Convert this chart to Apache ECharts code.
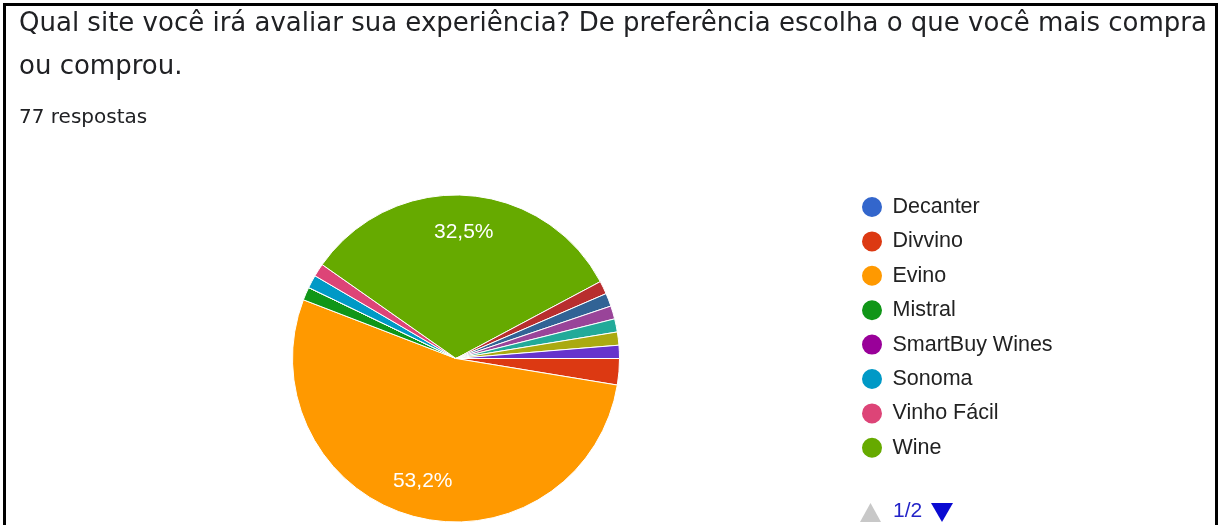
<!DOCTYPE html>
<html>
<head>
<meta charset="utf-8">
<script src="https://cdn.jsdelivr.net/npm/echarts@6/dist/echarts.min.js"></script>
<style>
  html, body { margin: 0; padding: 0; background: #fff; }
  #chart { width: 1223px; height: 525px; }
</style>
</head>
<body>
<div id="chart"></div>
<script>
// respostas por site (77 no total); os 6 ultimos ficam na pagina 2 da legenda
const sites = ['Decanter', 'Divvino', 'Evino', 'Mistral', 'SmartBuy Wines', 'Sonoma', 'Vinho Fácil', 'Wine',
  'Grand Cru', 'Vinci', 'Vivino', 'World Wine', 'Zahil', 'Supermercado']
const respostas = [0, 2, 41, 1, 0, 1, 1, 25, 1, 1, 1, 1, 1, 1]
const cores = ['#3366cc', '#dc3912', '#ff9900', '#109618', '#990099', '#0099c6', '#dd4477', '#66aa00',
  '#b82e2e', '#316395', '#994499', '#22aa99', '#aaaa11', '#6633cc']
const legendaPagina1 = sites.slice(0, 8)

const total = respostas.reduce((a, b) => a + b, 0)
const pieData = sites.map((name, i) => ({ name, value: respostas[i], itemStyle: { color: cores[i] } }))

const chart = echarts.init(document.getElementById('chart'))
chart.setOption({
  animation: false,
  color: cores,
  title: [
    {
      text: 'Qual site você irá avaliar sua experiência? De preferência escolha o que você mais compra\nou comprou.',
      left: 14, top: -2,
      textStyle: { fontFamily: 'DejaVu Sans', fontSize: 26, fontWeight: 'normal', color: '#202124', lineHeight: 43 }
    },
    {
      text: total + ' respostas',
      left: 14, top: 103,
      textStyle: { fontFamily: 'DejaVu Sans', fontSize: 20, fontWeight: 'normal', color: '#202124', lineHeight: 20 }
    }
  ],
  legend: {
    orient: 'vertical',
    left: 855, top: 190,
    data: legendaPagina1,
    icon: 'circle',
    itemWidth: 31, itemHeight: 22,
    itemGap: 10.4,
    selectedMode: false,
    textStyle: { fontFamily: 'Liberation Sans, Arial', fontSize: 21.5, color: '#222' }
  },
  series: [
    {
      type: 'pie',
      center: [456, 358.5],
      radius: 163.5,
      startAngle: 0,
      clockwise: true,
      silent: true,
      avoidLabelOverlap: false,
      label: { show: false },
      labelLine: { show: false },
      itemStyle: { borderColor: '#fff', borderWidth: 1 },
      data: pieData
    },
    {
      // serie invisivel so para posicionar os rotulos percentuais
      type: 'pie',
      center: [456, 358.5],
      radius: 248,
      startAngle: 0,
      clockwise: true,
      silent: true,
      avoidLabelOverlap: false,
      itemStyle: { color: 'rgba(0,0,0,0)' },
      label: {
        show: true,
        position: 'inside',
        fontFamily: 'Liberation Sans, Arial',
        fontSize: 21,
        color: '#fff',
        formatter: p => p.value / total >= 0.05 ? (p.value / total * 100).toFixed(1).replace('.', ',') + '%' : ''
      },
      labelLine: { show: false },
      data: sites.map((name, i) => ({ name, value: respostas[i] }))
    }
  ],
  graphic: [
    {
      type: 'rect',
      shape: { x: 4.5, y: 4.5, width: 1212, height: 540 },
      style: { fill: 'none', stroke: '#000', lineWidth: 3 }
    },
    {
      type: 'polygon',
      shape: { points: [[860, 522], [881, 522], [870.5, 503]] },
      style: { fill: '#c8c8c8' }
    },
    {
      type: 'text',
      left: 893, top: 501,
      style: { text: '1/2', font: '21px Liberation Sans, Arial', fill: '#2323c8' }
    },
    {
      type: 'polygon',
      shape: { points: [[931, 503], [953, 503], [942, 522]] },
      style: { fill: '#0a0ad2' }
    }
  ]
})
</script>
</body>
</html>
